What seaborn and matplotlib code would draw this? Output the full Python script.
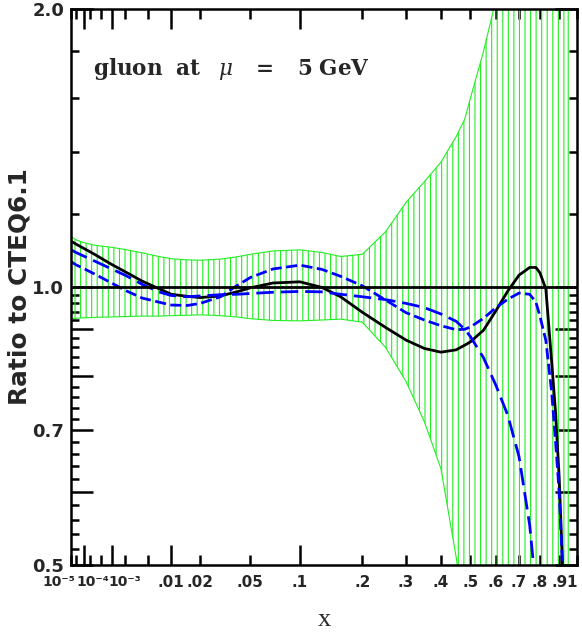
import numpy as np
import matplotlib
matplotlib.use('Agg')
import matplotlib.pyplot as plt
import matplotlib.transforms as mtrans
import seaborn as sns

x_vals = [1e-5, 3e-5, 1e-4, 3e-4, 1e-3, 2e-3, 4e-3, 7e-3, 0.01, 0.015,
          0.02, 0.03, 0.04, 0.05, 0.07, 0.1, 0.13, 0.16, 0.2, 0.25,
          0.3, 0.35, 0.4, 0.45, 0.48, 0.5, 0.55, 0.6, 0.65, 0.7,
          0.75, 0.78, 0.8, 0.83, 0.86, 0.88, 0.9, 0.92, 0.95]

# uncertainty band (green hatch)
band_hi = [1.134, 1.125, 1.117, 1.110, 1.104, 1.098, 1.089, 1.079, 1.073, 1.070,
           1.069, 1.072, 1.078, 1.085, 1.094, 1.097, 1.090, 1.079, 1.085, 1.148,
           1.235, 1.300, 1.365, 1.455, 1.52, 1.60, 1.80, 2.05, 2.3, 2.6,
           2.9, 3.1, 3.2, 3.4, 3.6, 3.8, 4.0, 4.2, 4.6]
band_lo = [0.924, 0.925, 0.926, 0.927, 0.928, 0.929, 0.930, 0.930, 0.931, 0.932,
           0.933, 0.931, 0.928, 0.924, 0.920, 0.919, 0.921, 0.923, 0.916, 0.860,
           0.790, 0.715, 0.636, 0.510, 0.44, 0.40, 0.32, 0.26, 0.21, 0.17,
           0.14, 0.12, 0.11, 0.10, 0.09, 0.08, 0.07, 0.06, 0.05]

# black solid curve
central = [1.121, 1.113, 1.101, 1.085, 1.058, 1.039, 1.015, 0.996, 0.982, 0.977,
           0.974, 0.978, 0.988, 0.998, 1.010, 1.013, 0.999, 0.976, 0.939, 0.904,
           0.876, 0.858, 0.850, 0.855, 0.865, 0.872, 0.898, 0.943, 0.990, 1.030,
           1.050, 1.050, 1.036, 0.995, 0.830, 0.735, 0.623, 0.490, 0.300]

# blue long-dash curve
long_dash = [1.097, 1.090, 1.080, 1.067, 1.046, 1.030, 1.007, 0.988, 0.979, 0.976,
             0.978, 0.981, 0.982, 0.984, 0.987, 0.989, 0.988, 0.982, 0.976, 0.969,
             0.960, 0.950, 0.935, 0.918, 0.900, 0.884, 0.838, 0.782, 0.726, 0.655,
             0.552, 0.470, 0.42, 0.35, 0.28, 0.24, 0.20, 0.15, 0.10]

# blue short-dash curve
short_dash = [1.065, 1.057, 1.047, 1.033, 1.010, 0.992, 0.973, 0.963, 0.956, 0.955,
              0.960, 0.976, 1.003, 1.024, 1.046, 1.056, 1.045, 1.027, 1.003, 0.968,
              0.938, 0.921, 0.908, 0.899, 0.900, 0.905, 0.925, 0.950, 0.970, 0.985,
              0.982, 0.963, 0.930, 0.875, 0.770, 0.683, 0.600, 0.490, 0.350]

x_major = [1e-4, 1e-3, 0.01, 0.1]
x_major_labels = ['10⁻⁴', '10⁻³', '.01', '.1']
x_minor = [1e-5, 3e-5, 2e-4, 5e-4, 2e-3, 5e-3, 0.02, 0.05, 0.2, 0.3, 0.4,
           0.5, 0.6, 0.7, 0.8, 0.9, 1.0]
x_minor_labels = ['10⁻⁵', '', '', '', '', '', '.02', '.05', '.2', '.3', '.4',
                  '.5', '.6', '.7', '.8', '.9', '1']

y_major = [0.5, 0.6, 0.7, 0.8, 0.9, 1.0, 2.0]
y_major_labels = ['0.5', '', '0.7', '', '', '1.0', '2.0']
y_minor = [v / 100 for v in range(52, 100, 2) if v % 10 != 0] + [1.2, 1.4, 1.6, 1.8]

sns.set_style('ticks')
plt.rcParams['hatch.linewidth'] = 0.8

fig = plt.figure(figsize=(5.82, 6.32), dpi=100)
ax = fig.add_axes([71 / 582, 1 - 565 / 632, 506 / 582, 556 / 632])

# CTEQ style x axis: cube root of x
ax.set_xscale('function', functions=(np.cbrt, lambda u: np.power(u, 3)))
ax.set_yscale('log')

ax.fill_between(x_vals, band_lo, band_hi, facecolor='none', edgecolor='#22ee22',
                hatch='|||', linewidth=0.8)
sns.lineplot(x=x_vals, y=central, ax=ax, color='black', linewidth=2.0)
sns.lineplot(x=x_vals, y=long_dash, ax=ax, color='#0000ff', linewidth=2.0,
             linestyle=(0, (6.3, 2.5)))
sns.lineplot(x=x_vals, y=short_dash, ax=ax, color='#0000ff', linewidth=2.0,
             linestyle=(0, (4.0, 1.6)))
ax.axhline(1.0, color='black', linewidth=2.0)

ax.set_xlim(1e-5, 1.0)
ax.set_ylim(0.5, 2.0)

ax.set_xticks(x_major, labels=x_major_labels)
ax.set_xticks(x_minor, labels=x_minor_labels, minor=True)
ax.set_yticks(y_major, labels=y_major_labels)
ax.set_yticks(y_minor, labels=[''] * len(y_minor), minor=True)

ax.tick_params(which='both', direction='in', top=True, right=True, width=1.8, color='black')
ax.xaxis.set_tick_params(which='major', length=14.4, pad=7)
ax.xaxis.set_tick_params(which='minor', length=7, pad=7)
ax.yaxis.set_tick_params(which='major', length=16, pad=5)
ax.yaxis.set_tick_params(which='minor', length=6)

# small-x labels sit packed together as in the original
power_shift = {'10⁻⁵': ('right', 4), '10⁻⁴': ('left', -7), '10⁻³': ('left', -3.5)}
for lab in ax.get_xticklabels(which='both'):
    lab.set_fontsize(11)
    lab.set_fontweight('bold')
    txt = lab.get_text()
    if txt in power_shift:
        ha, dx = power_shift[txt]
        lab.set_fontsize(10)
        lab.set_horizontalalignment(ha)
        lab.set_transform(lab.get_transform() +
                          mtrans.ScaledTranslation(dx / 100, 0, fig.dpi_scale_trans))
    elif txt == '1':
        lab.set_horizontalalignment('right')
for lab in ax.get_yticklabels():
    lab.set_fontsize(13)
    lab.set_fontweight('bold')

for sp in ax.spines.values():
    sp.set_linewidth(1.8)
    sp.set_color('black')

ax.set_xlabel('x', fontfamily='Liberation Serif', fontsize=19)
ax.xaxis.set_label_coords(0.5, -0.079)
ax.set_ylabel('Ratio to CTEQ6.1', fontfamily='DejaVu Sans', fontweight='bold', fontsize=17.8)
ax.yaxis.set_label_coords(-0.079, 0.5)

ax.text(0.0435, 0.881,
        r'$\mathbf{gluon\ \ at}\ \ \;\mu\ \ \;\mathbf{=}\ \ \;\mathbf{5\ GeV}$',
        transform=ax.transAxes, fontsize=15.5, math_fontfamily='dejavuserif',
        va='baseline')

fig.savefig('out.png', dpi=100)
